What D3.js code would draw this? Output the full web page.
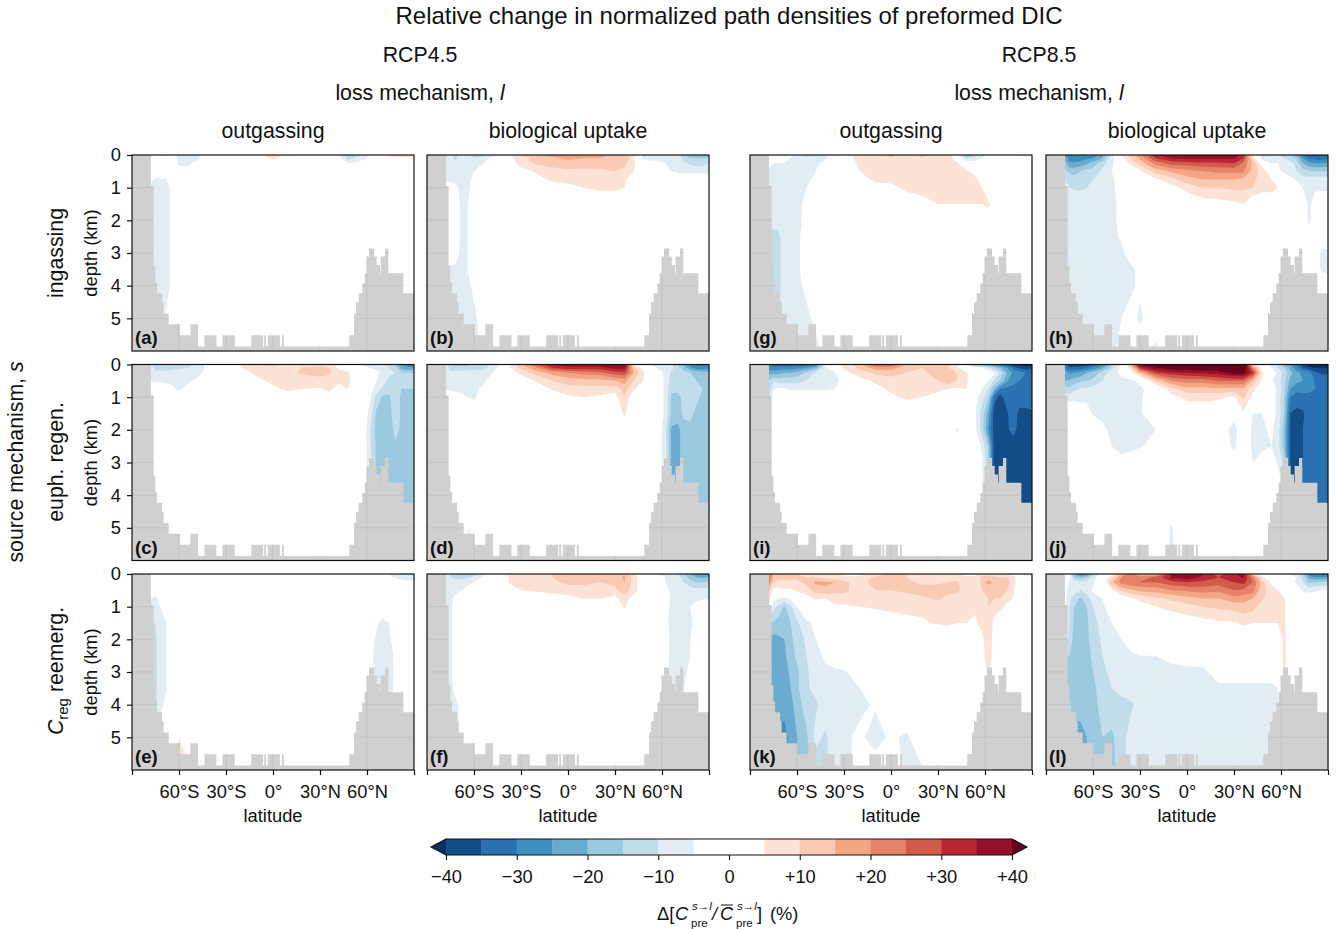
<!DOCTYPE html>
<html><head><meta charset="utf-8">
<script src="https://cdn.jsdelivr.net/npm/d3@7"></script>
<style>html,body{margin:0;background:#fff}svg{display:block}text{font-family:"Liberation Sans",Arial,sans-serif;fill:#111}</style>
</head><body><svg id="c" width="1339" height="929"></svg>
<script>
const latGrid=[-78,-75,-72,-68,-64,-60,-54,-48,-42,-36,-30,-20,-10,0,10,20,30,36,42,48,54,58,62,66,70,74,78,82,86,90];
const depthGrid=[0,0.1,0.25,0.5,0.75,1,1.5,2,2.5,3,3.5,4,5,6];
const levels=[5,10,15,20,25,30,35,40];
const posColors=["#fde3d6","#fbcab2","#f4a683","#e58267","#d15a4b","#b92732","#951026","#67001f"];
const negColors=["#e1edf3","#c1ddeb","#9bc9e0","#6aacd0","#3f8ec0","#2a71b2","#144c87","#053061"];
const landLat=[-90,-77.9,-76.2,-75.1,-74,-70.8,-69.8,-66.6,-59.5,-52.7,-47.8,-43.8,-36.1,-32.3,-24.4,-13.9,-6.3,-5.6,-4.4,-3.3,4.4,5.7,6.9,48.7,51.7,53,54.7,57,58.5,59.8,61.3,64.5,66.2,68.3,68.7,71.5,73.6,83.2,90];
const landDepth=[0,0.95,3.4,3.9,4.23,4.51,4.85,5.18,5.52,5.18,5.86,5.52,5.86,5.52,5.86,5.52,5.86,5.52,5.86,5.52,5.86,5.52,5.86,5.52,4.85,4.51,4.23,3.93,3.62,3.11,2.86,3.11,3.37,3.62,3.11,2.86,3.62,4.23,4.23];
const latTicks=[-90,-60,-30,0,30,60,90];
const depthTicks=[0,1,2,3,4,5];
const cbarTicks=[-40,-30,-20,-10,0,10,20,30,40];

const panelA=[
[0,0,6,6,-4,-6,-7,-6,-1,0,0,0,4,7,4,0,0,0,-4,-15,-10,-7,-4,0,0,6,7,7,7,6],
[0,0,2,2,-3,-6,-7,-6,-1,0,0,0,2,6,2,0,0,0,-2,-12,-8,-6,-3,0,0,3,4,4,4,3],
[0,0,0,0,-2,-6,-6,-3,0,0,0,0,0,2,0,0,0,0,0,-5,-4,-2,0],
[0,0,0,0,0,-3,-3],
[-4,-6,-6,-5,-2],
[-6,-7,-7,-7,-3],
[-7,-7,-7,-7,-3],
[-7,-7,-7,-7,-3],
[-7,-7,-7,-7,-3],
[-7,-7,-7,-7,-3],
[-7,-7,-7,-7,-3],
[-7,-7,-7,-7,-3],
[-6,-6,-6,-4,-2],
[-6,-6,-6,-4,-2]];
const panelB=[
[-6,-8,-11,-8,-8,-11,-11,-7,-3,6,10,15,16,17,16,16,14,15,7,-7,-7,-7,-7,-6,-7,-14,-20,-21,-21,-20],
[-6,-8,-11,-8,-7,-10,-8,-3,0,4,8,12,14,16,15,15,13,14,6,-6,-6,-6,-6,-6,-7,-12,-15,-15,-15,-14],
[-6,-7,-8,-7,-7,-7,-5,-1,0,3,7,11,12,13,12,12,12,11,6,-2,-4,-4,-5,-6,-6,-9,-11,-12,-12,-10],
[-6,-6,-6,-6,-6,-5,-2,0,0,0,3,6,8,9,9,9,10,9,5,0,0,0,-2,-5,-6,-6,-6,-6,-6,-6],
[-6,-6,-6,-6,-6,-4,-1,0,0,0,0,3,6,7,7,7,7,6,1,0,0,0,0,0,-2,-2,-2,-2,-2,-2],
[-1,-3,-4,-6,-6,-3,0,0,0,0,0,0,1,3,5,6,6,5,0],
[0,0,-2,-6,-5,-3],
[0,0,-2,-6,-5,-3],
[0,0,-2,-6,-5,-3],
[-1,-2,-3,-6,-5,-3],
[-6,-6,-6,-6,-5,-3],
[-6,-6,-6,-7,-6,-4],
[-6,-6,-6,-7,-6,-6,-3],
[-6,-6,-6,-6,-6,-6,-4]];
const panelC=[
[-7,-12,-15,-15,-15,-15,-12,-9,-3,0,0,5,10,11,5,7,8,7,3,0,-4,-7,-8,-8,-9,-12,-15,-25,-28,-28],
[-7,-12,-13,-13,-12,-11,-10,-9,-3,0,0,5,9,9,6,11,12,10,4,2,0,-3,-5,-6,-7,-10,-12,-22,-24,-24],
[-6,-8,-8,-8,-7,-7,-9,-8,-1,0,0,3,6,7,9,11,12,11,7,6,0,0,-2,-4,-6,-9,-10,-14,-15,-15],
[-6,-6,-6,-6,-6,-6,-6,-3,0,0,0,0,4,6,6,7,8,7,6,6,0,0,-2,-5,-8,-11,-11,-12,-12,-12],
[0,0,0,-2,-4,-6,-3,0,0,0,0,0,1,4,6,5,4.5,6,3,5,0,0,-3,-7,-11,-13,-11,-15,-15,-15],
[0,0,0,0,0,0,0,0,0,0,0,0,0,1,2,1,1,3,0,0,0,0,-4,-12,-16,-16,-12,-16,-16,-16],
[0,0,0,0,0,0,0,0,0,0,0,0,0,0,0,0,0,0,0,0,0,-2,-7,-16,-17,-17,-12,-16,-17,-17],
[0,0,0,0,0,0,0,0,0,0,0,0,0,0,0,0,0,0,0,0,0,-2,-10,-17,-17,-19,-13,-16,-17,-17],
[0,0,0,0,0,0,0,0,0,0,0,0,0,0,0,0,0,0,0,0,0,-2,-9,-16,-17,-20,-16,-17,-17,-17],
[0,0,0,0,0,0,0,0,0,0,0,0,0,0,0,0,0,0,0,0,0,-2,-9,-16,-17,-20,-17,-17,-17,-17],
[0,0,0,0,0,0,0,0,0,0,0,0,0,0,0,0,0,0,0,0,0,-2,-9,-16,-17,-17,-17,-17,-17,-17],
[0,0,0,0,0,0,0,0,0,0,0,0,0,0,0,0,0,0,0,0,0,-2,-9,-16,-17,-17,-17,-17,-17,-17],
[0,0,0,0,0,0,0,0,0,0,0,0,0,0,0,0,0,0,0,0,0,-2,-9,-16,-17,-17,-17,-17,-17,-17],
[0,0,0,0,0,0,0,0,0,0,0,0,0,0,0,0,0,0,0,0,0,-2,-9,-16,-17,-17,-17,-17,-17,-17]];
const panelD=[
[-8,-17,-17,-17,-17,-14,-12,-9,-2,7,14,26,36,38,38,38,39,40,5,-4,-6,-7,-8,-9,-15,-22,-27,-31,-31,-31],
[-8,-12,-12,-12,-12,-12,-11,-8,-2,6,11,20,30,33,33,33,37,37,12,3,-3,-6,-7,-8,-13,-17,-24,-28,-28,-27],
[-7,-9,-9,-8,-8,-8,-8,-5,0,1,7,12,17,20,22,23,28,29,15,6,0,-3,-6,-11,-13,-14,-15,-16,-18,-18],
[-6,-6,-6,-6,-6,-6,-6,-2,0,0,0,6,10,12,13,13,15,17,10,5,0,-2,-6,-12,-13,-14,-14,-15,-16,-16],
[-6,-6,-6,-6,-6,-6,-4,0,0,0,0,0,6,8,8,8,7,12,6,0,0,-2,-6,-14,-14,-14,-14,-14,-15,-16],
[0,-2,-3,-4,-5,-6,-2,0,0,0,0,0,0,4,5,4,3,10,0,0,0,-2,-6,-16,-16,-14,-14,-14,-16,-17],
[0,0,0,0,0,0,0,0,0,0,0,0,0,0,0,0,0,6,0,0,0,-2,-6,-16,-17,-14,-14,-16,-17,-17],
[0,0,0,0,0,0,0,0,0,0,0,0,0,0,0,0,0,0,0,0,0,-3,-8,-21,-22,-17,-16,-16,-17,-17],
[0,0,0,0,0,0,0,0,0,0,0,0,0,0,0,0,0,0,0,0,0,-3,-7,-21,-22,-17,-17,-17,-17,-17],
[0,0,0,0,0,0,0,0,0,0,0,0,0,0,0,0,0,0,0,0,0,-3,-7,-21,-22,-17,-17,-17,-17,-17],
[0,0,0,0,0,0,0,0,0,0,0,0,0,0,0,0,0,0,0,0,0,-3,-7,-21,-22,-17,-17,-17,-17,-17],
[0,0,0,0,0,0,0,0,0,0,0,0,0,0,0,0,0,0,0,0,0,-3,-7,-21,-22,-17,-17,-17,-17,-17],
[0,0,0,0,-5,-4,0,0,0,0,0,0,0,0,0,0,0,0,0,0,0,-3,-7,-21,-22,-17,-17,-17,-17,-17],
[0,0,0,0,-6,-6,-3,0,0,0,0,0,0,0,0,0,0,0,0,0,0,-3,-7,-21,-22,-17,-17,-17,-17,-17]];
const panelE=[
[0,0,0,0,0,0,0,0,0,0,0,0,0,0,0,0,0,0,0,-6,0,0,0,0,-3,-5,-9,-11,-12,-12],
[0,0,0,0,0,0,0,0,0,0,0,0,0,0,0,0,0,0,0,0,0,0,0,0,0,-3,-6,-7,-7,-7],
[0,0,0,0,0,0,0,0,0,0,0,0,0,0,0,0,0,0,0,0,0,0,0,0,0,0,-2,-3,-4,-4],
[-2,-3],
[-5,-6,-3],
[-6,-7,-5,-2],
[-10,-10,-7,-5,-1,0,0,0,0,0,0,0,0,0,0,0,0,0,0,0,0,0,-1,-4,-7,-5,-2],
[-11,-11,-7,-5,-2,0,0,0,0,0,0,0,0,0,0,0,0,0,0,0,0,0,-2,-6,-7,-6,-3],
[-11,-11,-7,-5,-2,0,0,0,0,0,0,0,0,0,0,0,0,0,0,0,0,0,-3,-7,-7,-7,-4],
[-11,-11,-7,-5,-2,0,0,0,0,0,0,0,0,0,0,0,0,0,0,0,0,0,-3,-7,-7,-7,-4],
[-11,-11,-7,-5,-2,0,0,0,0,0,0,0,0,0,0,0,0,0,0,0,0,0,-3,-7,-7,-7,-4],
[-11,-11,-7,-3,-2,0,0,0,0,0,0,0,0,0,0,0,0,0,0,0,0,0,-3,-7,-7,-7,-3],
[0,0,0,7,3,5,0],
[0,0,0,0,0,8,6]];
const panelF=[
[-8,-11,-13,-13,-13,-12,-7,-4,5,6,6,9,10,15,14,11,12,14,6,0,-3,-5,-6,-8,-10,-14,-20,-26,-26,-26],
[-7,-10,-11,-11,-11,-9,-4,-1,2,6,6,8,10,13,13,11,12,16,8,0,-1,-4,-5,-6,-8,-12,-17,-20,-21,-20],
[-6,-7,-8,-8,-7,-5,-2,0,3,6,6,7,9,11,11,10,11,15,8,0,0,-2,-5,-6,-7,-10,-13,-15,-15,-14],
[-6,-6,-6,-5,-2,0,0,0,0,3,5,6,7,8,8,9,9,12,8,0,0,0,-3,-6,-6,-7,-8,-8,-8,-8],
[-6,-6,-4,-2,0,0,0,0,0,0,0,0,2,3,5,5,3,8,2,0,0,0,-2,-6,-6,-6,-6,-6,-6,-5],
[-6,-6,-3,0,0,0,0,0,0,0,0,0,0,0,0,0,0,6,0,0,0,0,-3,-6,-6,-6,-5,-3],
[-6,-6,-3,0,0,0,0,0,0,0,0,0,0,0,0,0,0,0,0,0,0,0,-3,-7,-6,-6,-6,-3],
[-6,-6,-3,0,0,0,0,0,0,0,0,0,0,0,0,0,0,0,0,0,0,0,-3,-6,-6,-6,-5,-3],
[-6,-6,-3,0,0,0,0,0,0,0,0,0,0,0,0,0,0,0,0,0,0,0,-3,-6,-6,-6,-5,-3],
[-6,-6,-3,0,0,0,0,0,0,0,0,0,0,0,0,0,0,0,0,0,0,0,-4,-6,-6,-6,-4,-1],
[-6,-6,-4,0,0,0,0,0,0,0,0,0,0,0,0,0,0,0,0,0,0,0,-5,-6,-6,-5,-2],
[-6,-6,-6,-4,0,0,0,0,0,0,0,0,0,0,0,0,0,0,0,0,0,0,-5,-6,-6,-5,-2],
[-6,-6,-6,-4],
[-6,-6,-6,-4]];
const panelG=[
[-3,-3,6,6,-3,-7,-11,-10,-6,0,2,7,8,11,8,11,7,6,4,-20,-12,-7,-3,0,0,3,6,6,6,6],
[-1,-1,2,2,-5,-7,-9,-8,-6,0,2,7,9,10,8,10,7,7,3,-10,-8,-5,-1],
[-3,-5,-5,-6,-6,-6,-7,-6,-3,0,1,6,7,8,7,8,7,7,6,0,-2,-2],
[-6,-6,-6,-6,-6,-6,-6,-5,0,0,0,5,6,6,6,6,6,6,6,6,3],
[-6,-6,-6,-6,-6,-6,-6,-4,0,0,0,3,6,6,6,6,6,6,6,6,6,3],
[-6,-6,-6,-6,-6,-6,-5,-3,0,0,0,0,3,4,6,6,6,6,6,6,6,5,2],
[-6,-6,-6,-6,-6,-6,-4,0,0,0,0,0,0,0,2,4,5,5,5,5,5,5,6,3],
[-9,-9,-8,-6,-6,-6,-4,0,0,0,0,0,0,0,0,0,0,0,0,0,0,0,2],
[-11,-11,-11,-8,-6,-6,-3],
[-11,-11,-11,-8,-6,-6,-3],
[-11,-11,-11,-8,-6,-6,-3],
[-11,-11,-11,-8,-6,-6,-4],
[-11,-11,-11,-8,-6,-6,-6,-4,-2],
[-11,-11,-11,-8,-6,-6,-6,-6,-4]];
const panelH=[
[-25,-30,-30,-30,-28,-28,-22,-7,5,12,18,34,38,39,39,39,38,32,5,-12,-10,-10,-12,-14,-20,-30,-34,-35,-35,-35],
[-20,-28,-28,-28,-26,-25,-20,-7,3,10,16,30,35,36,36,36,36,30,8,-8,-8,-8,-10,-12,-16,-25,-30,-32,-32,-31],
[-18,-24,-24,-23,-21,-18,-12,-6,0,6,12,22,27,28,29,29,30,24,14,2,-5,-5,-7,-8,-12,-20,-24,-25,-25,-24],
[-14,-16,-17,-15,-13,-13,-9,-5,0,0,4,12,16,18,20,21,21,21,13,8,2,-4,-6,-8,-10,-13,-14,-15,-15,-15],
[-10,-12,-13,-13,-11,-10,-7,-6,-2,0,0,4,8,13,15,15,15,14,11,8,5,2,-1,-3,-6,-8,-8,-7,-7,-7],
[-8,-10,-10.5,-11,-10,-7,-6,-6,-3,0,0,0,3,7,10,10,11,11,10,7,7,5,0,0,0,-5,-6,-6,-6,-6],
[-6,-6,-6,-6,-6,-6,-6,-6,-4,0,0,0,0,0,2,3,4,5,0,0,0,0,0,0,0,-2,-6,-2,-1,-1],
[-6,-6,-6,-6,-6,-6,-6,-6,-4,0,0,0,0,0,0,0,0,0,0,0,0,0,0,0,0,-1,-6,-1],
[-6,-6,-6,-6,-6,-6,-6,-6,-4.5,0,0,0,0,0,0,0,0,0,0,0,0,0,0,0,0,0,-3,-2,-2,-2],
[-6,-6,-6,-6,-6,-6,-6,-6,-6,-3,0,0,0,0,0,0,0,0,0,0,0,0,0,0,0,0,0,-2,-6,-6],
[-6,-6,-6,-6,-6,-6,-6,-6,-7,-6,-4,0,0,0,0,0,0,0,0,0,0,0,0,0,0,0,0,-2,-6,-6],
[-6,-6,-6,-6,-6,-6,-6,-6,-6,-6,-4,0,0,0,0,0,0,0,0,0,0,0,0,0,0,0,0,0,0,-2],
[-6,-6,-6,-6,-6,-6,-6,-6,-5,-3,-6],
[-6,-6,-6,-6,-6,-6,-6,-6,-4,-2,-1,-7]];
const panelI=[
[-30,-33,-33,-33,-33,-33,-33,-30,-6,0,8,12,26,27,14,11,12,10,5,-8,-20,-22,-24,-28,-30,-35,-40,-42,-42,-42],
[-28,-28,-28,-28,-28,-27,-25,-20,-6,0,6,11,18,18,11,10,11,11,6,0,-3,-5,-10,-15,-20,-25,-32,-36,-38,-38],
[-22,-22,-22,-20,-20,-18,-14,-9,-6,-6,3,8,11,12,10,9,12,15,10,6,0,0,-1,-4,-12,-20,-26,-28,-30,-30],
[-15,-10,-12,-12,-12,-12,-10,-6,-6,-6,-4,3,6,8,8,9,10,14,10,6,0,0,-5,-11,-16,-24,-29,-30,-32,-32],
[-15,-5,-4,-4,-6,-6,-6,-6,-6,-5,-3,0,3,6,6,6,6,5,4,5,0,-5,-10,-20,-30,-31,-31,-31,-32,-32],
[-10,-1,0,0,0,0,0,0,0,0,0,0,0,4,6,5,3,2,0,0,-3,-8,-14,-33,-37,-32,-31,-31,-31,-31],
[0,0,0,0,0,0,0,0,0,0,0,0,0,0,0,0,0,0,0,0,-5,-12,-22,-38,-38,-36,-31,-37,-37,-36],
[0,0,0,0,0,0,0,0,0,0,0,0,0,0,0,0,0,0,-6,0,-4,-12,-25,-38,-38,-36,-33,-37,-37,-37],
[0,0,0,0,0,0,0,0,0,0,0,0,0,0,0,0,0,0,0,0,-1,-6,-15,-38,-38,-38,-38,-38,-38,-38],
[0,0,0,0,0,0,0,0,0,0,0,0,0,0,0,0,0,0,0,0,0,-4,-14,-38,-38,-38,-38,-38,-38,-38],
[0,0,0,0,0,0,0,0,0,0,0,0,0,0,0,0,0,0,0,0,0,-4,-14,-38,-38,-38,-38,-38,-38,-38],
[0,0,0,0,0,0,0,0,0,0,0,0,0,0,0,0,0,0,0,0,0,-4,-14,-38,-38,-38,-38,-38,-38,-38],
[0,0,0,0,0,0,0,0,0,0,0,0,0,0,0,0,0,0,0,0,0,-4,-14,-38,-38,-38,-38,-38,-38,-38],
[0,0,0,0,0,0,0,0,0,0,0,0,0,0,0,0,0,0,0,0,0,-4,-14,-38,-38,-38,-38,-38,-38,-38]];
const panelJ=[
[-30,-38,-38,-38,-38,-34,-28,-16,-4,12,40,46,50,50,50,50,52,52,8,-3,-6,-12,-20,-26,-32,-38,-44,-46,-46,-46],
[-28,-34,-34,-33,-31,-28,-22,-12,-3,7,32,40,43,44,45,46,47,47,22,1,-5,-10,-15,-22,-28,-35,-38,-40,-40,-40],
[-22,-26,-25,-24,-20,-18,-13,-7,-4,2,14,29,33,35,36,37,42,42,32,6,0,-7,-12,-18,-24,-26,-28,-34,-36,-36],
[-20,-19,-17,-16,-15,-14,-10,-7,-6,-6,-4,11,20,22,22,25,25,25,14,4,-4,-8,-13,-22,-24,-25,-26,-31,-31,-31],
[-12,-14,-12,-9,-9,-8,-8,-7,-6,-6,-6,-2,8,13,13,14,13,14,7,0,-2,-6,-13,-25,-28,-29,-29,-30,-31,-31],
[-8,-7,-6,-6,-6,-6,-6,-6,-6,-6,-6,0,3,6.5,7,6,4,11,3,0,-2,-7,-15,-30,-33,-31,-31,-31,-31,-31],
[0,0,-2,-3,-3,-5.5,-6,-6,-6,-6,-5.5,-2,0,0,0,0,-3,4,-5,-5,-3,-6,-15,-35,-36,-36,-31,-31,-31,-31],
[0,0,0,0,0,-1,-4,-6,-6,-6,-6,-5,0,0,0,-1,-7,-1,-6,-6,-4,-8,-18,-36,-36,-35,-31,-31,-31,-31],
[0,0,0,0,0,0,-1,-5,-6,-6,-5.5,-3,0,0,0,-1,-6,-1,-6,-6,-5,-7,-18,-36,-36,-35,-31,-31,-31,-31],
[0,0,0,0,0,0,0,0,-4,-3,0,0,0,0,0,0,-2,0,-5,-3,-3,-5.5,-12,-36,-36,-35,-31,-31,-31,-31],
[0,0,0,0,0,0,0,0,0,0,0,0,0,0,0,0,0,0,0,0,0,0,-12,-36,-36,-34,-31,-31,-31,-31],
[0,0,0,0,0,0,0,0,0,0,0,0,0,0,0,0,0,0,0,0,0,0,-12,-36,-36,-34,-31,-31,-31,-31],
[0,0,0,0,0,0,0,0,0,0,0,0,-5.5,0,0,0,0,0,0,0,0,0,-12,-36,-36,-34,-31,-31,-31,-31],
[0,0,0,0,0,0,0,0,0,0,0,0,-6,0,0,0,0,0,0,0,0,0,-12,-36,-36,-34,-31,-31,-31,-31]];
const panelK=[
[25,14,10,10,10,10,8,8,5,5,3,3,6,11,10,7,7,7,6,3,3,7,8,8,8,7,4,-5,-8,-10],
[25,13,11,11,11,11,10,10,8,7,7,7,11,11,10,8,8,8,7,6,7,11,13,11,10,10,7,1,0,-2],
[22,10,9,9,9,9,11,16,16,15,11,8,12,12,11,9,9,10,11,7,7,11,17,14,12,12,8],
[12,3,3,4,4,6,8,12,14,12,11,8,10,10,11,12,13,12,11,8,6,10,11,15,12,10,6],
[10,-3,-5,-6,-4,0,2,6,5,7,8,6,6,7,8,9,11,8,8,7,6,9,10,10,10,6,5],
[3,-8,-11,-16,-11,-5,0,0,3,4,4,5,5.5,6,6,6,7,7,6,6,6,9,10,8,6,4,1],
[-14,-16,-17,-17,-15,-11,-6,-4,0,0,0,0,2,3,4,4.5,5.5,6,5,5,4,7,10,3],
[-20,-22,-21,-20,-16,-13,-9,-5,-3,0,0,0,0,0,0,0,0,0,0,0,0,3,10,2],
[-22,-23,-24,-21,-17,-14,-10,-7,-4,-2,0,0,0,0,0,0,0,0,0,0,0,2,9,2],
[-24,-24,-24,-22,-19,-16,-11,-7,-6,-6,-5.5,-3,0,0,0,0,0,0,0,0,0,1,6,1],
[-24,-24,-24,-22,-20,-16,-11,-8,-7,-6,-6,-5,-2],
[-24,-24,-24,-24,-22,-17,-13,-11,-7,-6,-6,-6,-4.5,-2],
[-26,-26,-26,-26,-24,-20,-16,-8,-11,-7,-6,-4,-7,-4,-6],
[-26,-26,-26,-26,-24,-22,-16,-14,-11,-7,-6,-4,-2,-2,-6,-5.5]];
const panelL=[
[0,-3,-20,-28,-26,-15,0,3,14,22,14,12,35,40,35,27,34,38,12,-2,-2,-6,-5,-6,-7,-15,-28,-30,-32,-32],
[0,-4,-15,-18,-15,-8,0,8,20,24,22,26,36,40,34,30,33,36,22,6,0,-1,-1,-3,-5,-12,-22,-25,-25,-24],
[0,-6,-8,-9,-9,-6,-1,14,22,24,25,25,28,30,29,27,30,32,25,12,4,0,0,-3,-6,-10,-16,-15,-14,-13],
[-3,-7,-8,-10,-8,-4,0,3,11,14,16,17,20,21,22,21,25,24,22,12,7,5,2,0,-1,-6,-7,-6,-5,-4],
[-3,-9,-12,-16,-12,-8,-5,0,0,4,6,9,11,13,15,15,18,17,15,11,7,6,5.5,2],
[-3,-10,-15,-17,-15,-10,-6,-2,0,1,3,5,7,8,10,11,12,13,12,7,6,6,6,1],
[-5,-10,-16,-17,-16,-12,-8,-5,-3,0,0,0,0,2,3,4,4.5,6,5,5,5,5,6,1],
[-8,-11,-17,-17,-16,-13,-9,-6,-5,-2,0,0,0,0,0,0,0,0,0,0,0,2,6,2],
[-15,-15,-17,-18,-17,-14,-10,-7,-6,-6,-5,-5,-4,-3,-3,0,0,0,0,0,0,2,6,2],
[-17,-17,-18,-18,-17,-15,-11,-9,-7,-6,-6,-6,-6,-6,-6,-3,-3,-3,-3,-3,-3,-2,6,1],
[-18,-18,-18,-18,-18,-16,-13,-10,-8,-7,-6,-6,-6,-6,-6,-6,-6,-6,-6,-6,-6,-5],
[-18,-18,-18,-18,-18,-16,-14,-12,-12,-11,-8,-6,-6,-6,-6,-6,-6,-6,-6,-6,-6,-5],
[-22,-22,-22,-22,-20,-17,-15,-16,-12,-8,-6,-6,-6,-6,-6,-6,-6,-6,-6,-6,-6,-5],
[-22,-22,-22,-22,-20,-18,-16,-17,-12,-8,-6,-6,-6,-6,-6,-6,-6,-6,-6,-6,-6,-5]];

const panelRows=[[panelA,panelB,panelG,panelH],[panelC,panelD,panelI,panelJ],[panelE,panelF,panelK,panelL]];
const panelLetters=[["(a)","(b)","(g)","(h)"],["(c)","(d)","(i)","(j)"],["(e)","(f)","(k)","(l)"]];
const columnTitles=["outgassing","biological uptake","outgassing","biological uptake"];
const scenarioTitles=["RCP4.5","RCP8.5"];

const svg=d3.select("#c");
const colX=[132,427,750,1046], rowY=[155,364.5,574], W=282, H=196;
const TICK=18.3, LAB=18.3, HEAD=21.3;
const n=latGrid.length,m=depthGrid.length;
const xi=d3.scaleLinear().domain(latGrid.map((d,i)=>i+0.5)).range(latGrid);
const yi=d3.scaleLinear().domain(depthGrid.map((d,i)=>i+0.5)).range(depthGrid);
const contour=d3.contours().size([n,m]).thresholds(levels).smooth(true);
const latLabel=d=>(d===-90||d===90)?"":d===0?"0°":Math.abs(d)+"°"+(d<0?"S":"N");

panelRows.forEach((row,r)=>row.forEach((rows,c)=>{
  const x=d3.scaleLinear([-90,90],[colX[c],colX[c]+W]);
  const y=d3.scaleLinear([0,6],[rowY[r],rowY[r]+H]);
  const id=`p${r}${c}`;
  const defs=svg.append("defs");
  defs.append("clipPath").attr("id",id).append("rect").attr("x",colX[c]).attr("y",rowY[r]).attr("width",W).attr("height",H);
  const g=svg.append("g");
  const fg=g.append("g").attr("clip-path",`url(#${id})`);
  const path=d3.geoPath(d3.geoTransform({point(a,b){this.stream.point(x(xi(a)),y(yi(b)));}}));
  const flat=[];
  rows.forEach(rw=>{for(let i=0;i<n;i++)flat.push(rw[i]===undefined?0:rw[i]);});
  contour(flat).forEach((gm,i)=>fg.append("path").attr("d",path(gm)).attr("fill",posColors[i]));
  contour(flat.map(v=>-v)).forEach((gm,i)=>fg.append("path").attr("d",path(gm)).attr("fill",negColors[i]));
  const area=d3.area().curve(d3.curveStepAfter).x((d,i)=>x(landLat[i])).y0(y(6)).y1((d,i)=>y(landDepth[i]));
  const landD=area(landLat);
  fg.append("path").attr("d",landD).attr("fill","#d0d0d0");
  defs.append("clipPath").attr("id",id+"l").append("path").attr("d",landD);
  const gl=fg.append("g").attr("clip-path",`url(#${id}l)`).attr("stroke","#c3c3c3").attr("stroke-width",1);
  depthTicks.slice(1).forEach(t=>gl.append("line").attr("x1",colX[c]).attr("x2",colX[c]+W).attr("y1",y(t)).attr("y2",y(t)));
  latTicks.slice(1,-1).forEach(t=>gl.append("line").attr("y1",rowY[r]).attr("y2",rowY[r]+H).attr("x1",x(t)).attr("x2",x(t)));
  g.append("rect").attr("x",colX[c]).attr("y",rowY[r]).attr("width",W).attr("height",H).attr("fill","none").attr("stroke","#111").attr("stroke-width",1.2);
  g.append("text").attr("x",colX[c]+3).attr("y",rowY[r]+H-7).attr("font-size",18.5).attr("font-weight","bold").text(panelLetters[r][c]);
  if(c===0){
    const ax=g.append("g").attr("transform",`translate(${colX[c]},0)`).call(d3.axisLeft(y).tickValues(depthTicks).tickFormat(d3.format("d")).tickSize(5).tickPadding(6));
    ax.select(".domain").remove();
    ax.selectAll("text").attr("font-size",TICK).attr("font-family",null).style("fill","#111");
    ax.selectAll("line").attr("stroke","#111").attr("stroke-width",1.2);
  }
  if(r===2){
    const ax=g.append("g").attr("transform",`translate(0,${rowY[r]+H})`).call(d3.axisBottom(x).tickValues(latTicks).tickFormat(latLabel).tickSize(5).tickPadding(10));
    ax.select(".domain").remove();
    ax.selectAll("text").attr("font-size",TICK).attr("font-family",null).style("fill","#111");
    ax.selectAll("line").attr("stroke","#111").attr("stroke-width",1.2);
    g.append("text").attr("x",colX[c]+W/2).attr("y",822).attr("text-anchor","middle").attr("font-size",LAB).text("latitude");
  }
  if(r===0){
    g.append("text").attr("x",colX[c]+W/2).attr("y",138).attr("text-anchor","middle").attr("font-size",HEAD).text(columnTitles[c]);
  }
  if(c===0){
    g.append("text").attr("transform",`translate(97,${rowY[r]+98}) rotate(-90)`).attr("text-anchor","middle").attr("font-size",LAB).text("depth (km)");
  }
}));

function T(x,y,s,size,opt={}){
  const t=svg.append("text").attr("x",x).attr("y",y).attr("font-size",size).attr("text-anchor",opt.anchor||"middle");
  if(opt.italic)t.attr("font-style","italic");
  if(s)t.text(s);
  return t;
}
T(729,24,"Relative change in normalized path densities of preformed DIC",24);
[420,1039].forEach((cx,i)=>{
  T(cx,62,scenarioTitles[i],HEAD);
  const t=T(cx,100,null,HEAD);
  t.append("tspan").text("loss mechanism, ");
  t.append("tspan").attr("font-style","italic").text("l");
});
function R(x,yc,size){return svg.append("text").attr("transform",`translate(${x},${yc}) rotate(-90)`).attr("text-anchor","middle").attr("font-size",size);}
R(63,253,HEAD).text("ingassing");
R(63,462,HEAD).text("euph. regen.");
const cr=R(63,671,HEAD);
cr.append("tspan").attr("font-style","italic").text("C");
cr.append("tspan").attr("font-size",15).attr("dy",5).text("reg");
cr.append("tspan").attr("dy",-5).text(" reemerg.");
const sm=R(23,462,HEAD);
sm.append("tspan").text("source mechanism, ");
sm.append("tspan").attr("font-style","italic").text("s");

// colour bar
const cx=d3.scaleLinear([-40,40],[446,1012]);
const cy0=839,cy1=855;
const bandEdges=d3.range(-40,41,5);
d3.pairs(bandEdges).forEach(([a,b])=>{
  const mid=(a+b)/2;
  const fill=mid<-5?negColors[Math.floor((-mid-5)/5)]:mid>5?posColors[Math.floor((mid-5)/5)]:"#fff";
  svg.append("rect").attr("x",cx(a)).attr("y",cy0).attr("width",cx(b)-cx(a)+0.4).attr("height",cy1-cy0).attr("fill",fill);
});
const tipL=cx(-40)-15,tipR=cx(40)+15,cm=(cy0+cy1)/2;
svg.append("path").attr("d",`M${cx(-40)},${cy0}L${tipL},${cm}L${cx(-40)},${cy1}Z`).attr("fill",negColors[7]);
svg.append("path").attr("d",`M${cx(40)},${cy0}L${tipR},${cm}L${cx(40)},${cy1}Z`).attr("fill",posColors[7]);
svg.append("path").attr("d",`M${cx(-40)},${cy0}L${tipL},${cm}L${cx(-40)},${cy1}L${cx(40)},${cy1}L${tipR},${cm}L${cx(40)},${cy0}Z`).attr("fill","none").attr("stroke","#111").attr("stroke-width",1.1);
const cax=svg.append("g").attr("transform",`translate(0,${cy1})`).call(d3.axisBottom(cx).tickValues(cbarTicks).tickFormat(d=>d<0?"−"+(-d):d>0?"+"+d:"0").tickSize(5).tickPadding(10));
cax.select(".domain").remove();
cax.selectAll("text").attr("font-size",TICK).attr("font-family",null).style("fill","#111");
cax.selectAll("line").attr("stroke","#111").attr("stroke-width",1.1);
// colour bar label
const by=920, MF=18.3, SF=11.5;
T(657,by,"Δ[",MF,{anchor:"start"});
T(675,by,"C",MF,{anchor:"start",italic:true});
T(692,by-10,"s→l",SF,{anchor:"start",italic:true});
T(691,by+7,"pre",SF,{anchor:"start"});
T(712,by,"/",MF,{anchor:"start",italic:true});
T(720,by,"C",MF,{anchor:"start",italic:true});
svg.append("line").attr("x1",721).attr("x2",733).attr("y1",by-15).attr("y2",by-15).attr("stroke","#111").attr("stroke-width",1);
T(737,by-10,"s→l",SF,{anchor:"start",italic:true});
T(736,by+7,"pre",SF,{anchor:"start"});
T(757,by,"]",MF,{anchor:"start"});
T(770,by,"(%)",MF,{anchor:"start"});
</script></body></html>
